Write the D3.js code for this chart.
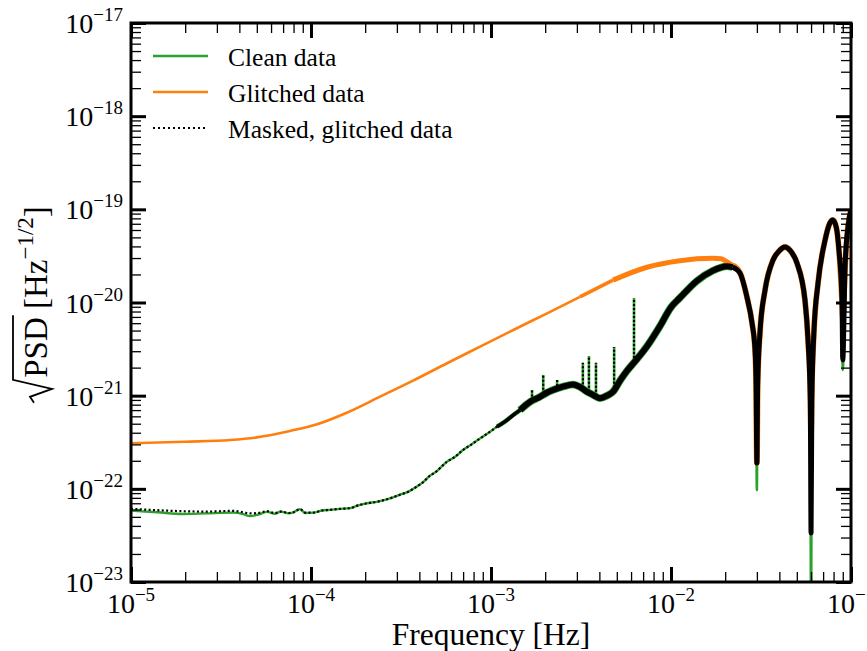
<!DOCTYPE html>
<html><head><meta charset="utf-8">
<script src="https://cdn.jsdelivr.net/npm/d3@7"></script>
<style>
body{margin:0;background:#fff}
svg{display:block}
text{font-family:"Liberation Serif","Times New Roman",serif;fill:#000}
</style>
</head><body>
<svg id="c" width="867" height="651"></svg>
<script>
// ---------------- DATA ----------------
const cleanFreq = [1e-5,1.4e-5,1.94e-5,2.6e-5,3.69e-5,4.2e-5,4.59e-5,5.1e-5,5.7e-5,6.3e-5,6.8e-5,7.5e-5,8.0e-5,8.69e-5,9.3e-5,
  1.03e-4,1.15e-4,1.28e-4,1.45e-4,1.65e-4,1.85e-4,2.05e-4,2.35e-4,2.75e-4,3.1e-4,3.5e-4,3.88e-4,4.2e-4,4.47e-4,5.0e-4,5.7e-4,6.3e-4,6.99e-4,7.8e-4,8.7e-4,9.6e-4,
  1.08e-3,1.2e-3,1.33e-3,1.45e-3,1.65e-3,1.85e-3,2.05e-3,2.21e-3,2.51e-3,2.86e-3,3.12e-3,3.42e-3,3.69e-3,4.03e-3,4.41e-3,4.76e-3,5.21e-3,5.70e-3,6.5e-3,7.36e-3,8.69e-3,
  1.0e-2,1.12e-2,1.39e-2,1.71e-2,2.05e-2,2.2e-2,2.415e-2,2.64e-2,2.82e-2,2.93e-2,2.97e-2,3.0e-2,3.03e-2,3.12e-2,3.33e-2,3.69e-2,4.0e-2,4.3e-2,4.6e-2,5.01e-2,5.55e-2,5.77e-2,5.94e-2,6.0e-2,6.06e-2,6.22e-2,6.56e-2,7.18e-2,7.6e-2,7.94e-2,8.3e-2,8.57e-2,8.91e-2,9.0e-2,9.27e-2,9.62e-2,1e-1];
const cleanPSD = [5.83e-23,5.6e-23,5.37e-23,5.45e-23,5.55e-23,5.35e-23,5.1e-23,5.3e-23,5.66e-23,5.4e-23,5.7e-23,5.45e-23,5.6e-23,6.05e-23,5.5e-23,
  5.55e-23,5.85e-23,5.95e-23,6.1e-23,6.2e-23,6.7e-23,7.0e-23,7.3e-23,7.9e-23,8.6e-23,9.4e-23,1.06e-22,1.18e-22,1.33e-22,1.55e-22,1.96e-22,2.2e-22,2.61e-22,3.0e-22,3.48e-22,3.95e-22,
  4.65e-22,5.3e-22,6.2e-22,7.0e-22,8.6e-22,9.6e-22,1.08e-21,1.15e-21,1.25e-21,1.32e-21,1.24e-21,1.10e-21,1.02e-21,9.4e-22,1.0e-21,1.1e-21,1.45e-21,1.85e-21,2.5e-21,3.4e-21,5.6e-21,
  8.9e-21,1.12e-20,1.7e-20,2.2e-20,2.45e-20,2.4e-20,2.07e-20,1.15e-20,6.0e-21,3.1e-21,1.3e-21,9.7e-23,1.3e-21,4.7e-21,1.36e-20,2.86e-20,3.6e-20,3.94e-20,3.6e-20,2.65e-20,1.06e-20,3.96e-21,9e-22,4e-24,9e-22,4.71e-21,1.62e-20,4.69e-20,7.0e-20,7.69e-20,6.3e-20,3.66e-20,1.06e-20,1.89e-21,2.41e-20,6.46e-20,9.84e-20];

const maskedFreq = cleanFreq.slice();
const maskedPSD = [6.1e-23,5.9e-23,5.75e-23,5.7e-23,5.8e-23,5.6e-23,5.45e-23,5.5e-23,5.75e-23,5.5e-23,5.7e-23,5.5e-23,5.6e-23,6.05e-23,5.55e-23,
  5.55e-23,5.85e-23,5.95e-23,6.1e-23,6.2e-23,6.7e-23,7.0e-23,7.3e-23,7.9e-23,8.6e-23,9.4e-23,1.06e-22,1.18e-22,1.33e-22,1.55e-22,1.96e-22,2.2e-22,2.61e-22,3.0e-22,3.48e-22,3.95e-22,
  4.65e-22,5.3e-22,6.2e-22,7.0e-22,8.6e-22,9.6e-22,1.08e-21,1.15e-21,1.25e-21,1.32e-21,1.24e-21,1.10e-21,1.02e-21,9.4e-22,1.0e-21,1.1e-21,1.45e-21,1.85e-21,2.5e-21,3.4e-21,5.6e-21,
  8.9e-21,1.12e-20,1.7e-20,2.2e-20,2.45e-20,2.4e-20,2.07e-20,1.15e-20,6.0e-21,3.1e-21,1.3e-21,1.89e-22,1.3e-21,4.7e-21,1.36e-20,2.86e-20,3.6e-20,3.94e-20,3.6e-20,2.65e-20,1.06e-20,3.96e-21,9e-22,3.36e-23,9e-22,4.71e-21,1.62e-20,4.69e-20,7.0e-20,7.69e-20,6.3e-20,3.66e-20,1.06e-20,2.42e-21,2.41e-20,6.46e-20,9.84e-20];

const glitchFreq = [1e-5,2e-5,3.55e-5,5.0e-5,7.64e-5,1.08e-4,1.58e-4,2.42e-4,3.69e-4,5.7e-4,8.7e-4,1.33e-3,2.05e-3,3.12e-3,4.76e-3,7.36e-3,1.12e-2,1.71e-2,1.9e-2,2.05e-2,2.2e-2,2.415e-2,
  2.64e-2,2.82e-2,2.93e-2,2.97e-2,3.0e-2,3.03e-2,3.12e-2,3.33e-2,3.69e-2,4.0e-2,4.3e-2,4.6e-2,5.01e-2,5.55e-2,5.77e-2,5.94e-2,6.0e-2,6.06e-2,6.22e-2,6.56e-2,7.18e-2,7.6e-2,7.94e-2,8.3e-2,8.57e-2,8.91e-2,9.0e-2,9.27e-2,9.62e-2,1e-1];
const glitchPSD = [3.08e-22,3.2e-22,3.34e-22,3.57e-22,4.18e-22,4.93e-22,6.56e-22,9.75e-22,1.45e-21,2.23e-21,3.36e-21,5.07e-21,7.65e-21,1.15e-20,1.74e-20,2.39e-20,2.81e-20,2.98e-20,2.95e-20,2.72e-20,2.5e-20,2.1e-20,
  1.15e-20,6.0e-21,3.1e-21,1.3e-21,1.9e-22,1.3e-21,4.7e-21,1.36e-20,2.86e-20,3.6e-20,3.94e-20,3.6e-20,2.65e-20,1.06e-20,3.96e-21,1.2e-21,4.0e-22,1.2e-21,4.71e-21,1.62e-20,4.69e-20,7.0e-20,7.69e-20,6.3e-20,3.66e-20,1.06e-20,7.0e-21,2.41e-20,6.46e-20,9.84e-20];

// narrow spectral lines (spikes) in clean and masked data
const spikeFreq = [1.69e-3,1.95e-3,2.33e-3,3.24e-3,3.50e-3,3.83e-3,4.83e-3,6.23e-3];
const spikeBase = [8.9e-22,1.05e-21,1.15e-21,1.2e-21,1.1e-21,1.0e-21,1.1e-21,2.3e-21];
const spikeTop  = [1.15e-21,1.67e-21,1.47e-21,2.25e-21,2.67e-21,2.25e-21,3.33e-21,1.12e-20];

const xTickExps = [-5,-4,-3,-2,-1];
const yTickExps = [-23,-22,-21,-20,-19,-18,-17];
const legendLabels = ["Clean data","Glitched data","Masked, glitched data"];
const xLabel = "Frequency [Hz]";

// ---------------- LAYOUT ----------------
const GREEN="#2ca02c", ORANGE="#ff7f0e", BLACK="#000";
const M={left:131,right:851,top:23,bottom:582};
const svg=d3.select("#c");
const x=d3.scaleLog().domain([1e-5,1e-1]).range([M.left,M.right]);
const y=d3.scaleLog().domain([1e-23,1e-17]).range([M.bottom,M.top]);

svg.append("defs").append("clipPath").attr("id","clip").append("rect")
  .attr("x",M.left).attr("y",M.top).attr("width",M.right-M.left).attr("height",M.bottom-M.top);
const plot=svg.append("g").attr("clip-path","url(#clip)");
const line=d3.line().x(d=>x(d[0])).y(d=>y(d[1])).curve(d3.curveMonotoneX);
function pts(F,V,lo,hi){return F.map((f,i)=>[f,V[i]]).filter(d=>d[0]>=lo&&d[0]<=hi);}
function draw(F,V,lo,hi,color,w,dash){
  plot.append("path").attr("d",line(pts(F,V,lo,hi))).attr("fill","none")
    .attr("stroke",color).attr("stroke-width",w).attr("stroke-linejoin","round")
    .attr("stroke-dasharray",dash||null);
}
function spikes(color,w,dash){
  plot.append("g").selectAll("line").data(spikeFreq).join("line")
    .attr("x1",d=>x(d)).attr("x2",d=>x(d))
    .attr("y1",(d,i)=>y(spikeBase[i])).attr("y2",(d,i)=>y(spikeTop[i]))
    .attr("stroke",color).attr("stroke-width",w).attr("stroke-dasharray",dash||null);
}

// clean
draw(cleanFreq,cleanPSD,1e-5,1.08e-3,GREEN,2.4);
draw(cleanFreq,cleanPSD,1.08e-3,1.45e-3,GREEN,4.5);
draw(cleanFreq,cleanPSD,1.45e-3,2.2e-2,GREEN,7.5);
draw(cleanFreq,cleanPSD,2.2e-2,1e-1,GREEN,2.6);
spikes(GREEN,2.6);
// glitched
draw(glitchFreq,glitchPSD,1e-5,3.12e-3,ORANGE,2.6);
draw(glitchFreq,glitchPSD,3.12e-3,4.76e-3,ORANGE,3.6);
draw(glitchFreq,glitchPSD,4.76e-3,2.2e-2,ORANGE,5);
draw(glitchFreq,glitchPSD,2.2e-2,1e-1,ORANGE,5.8);
// masked
draw(maskedFreq,maskedPSD,1e-5,1.08e-3,BLACK,2.2,"2,2.4");
draw(maskedFreq,maskedPSD,1.08e-3,1.45e-3,BLACK,3.5);
draw(maskedFreq,maskedPSD,1.45e-3,2.2e-2,BLACK,6);
draw(maskedFreq,maskedPSD,2.2e-2,1e-1,BLACK,5);
spikes(BLACK,2.2,"2,2");

// ---------------- AXES ----------------
const majX=xTickExps.map(e=>Math.pow(10,e));
const majY=yTickExps.map(e=>Math.pow(10,e));
const minX=[],minY=[];
xTickExps.slice(0,-1).forEach(e=>{for(let k=2;k<10;k++)minX.push(k*Math.pow(10,e));});
yTickExps.slice(0,-1).forEach(e=>{for(let k=2;k<10;k++)minY.push(k*Math.pow(10,e));});

function axis(gen,scale,vals,size,w,tr){
  const g=svg.append("g").attr("transform",tr)
    .call(gen(scale).tickValues(vals).tickSize(-size).tickFormat(""));
  g.select(".domain").remove();
  g.selectAll(".tick line").attr("stroke","#000").attr("stroke-width",w);
}
[[minX,10,1.3],[majX,15,3]].forEach(([v,s,w])=>{
  axis(d3.axisBottom,x,v,s,w,`translate(0,${M.bottom})`);
  axis(d3.axisTop,x,v,s,w,`translate(0,${M.top})`);
});
[[minY,10,1.3],[majY,15,3]].forEach(([v,s,w])=>{
  axis(d3.axisLeft,y,v,s,w,`translate(${M.left},0)`);
  axis(d3.axisRight,y,v,s,w,`translate(${M.right},0)`);
});
svg.append("rect").attr("x",M.left).attr("y",M.top).attr("width",M.right-M.left).attr("height",M.bottom-M.top)
  .attr("fill","none").attr("stroke","#000").attr("stroke-width",3);

// tick labels
xTickExps.forEach(e=>{
  const t=svg.append("text").attr("x",x(Math.pow(10,e))).attr("y",613).attr("text-anchor","middle");
  t.append("tspan").attr("font-size",28).text("10");
  t.append("tspan").attr("font-size",19).attr("dy",-12).text("\u2212"+Math.abs(e));
});
yTickExps.forEach(e=>{
  const t=svg.append("text").attr("x",123).attr("y",y(Math.pow(10,e))+10).attr("text-anchor","end");
  t.append("tspan").attr("font-size",28).text("10");
  t.append("tspan").attr("font-size",19).attr("dy",-12).text("\u2212"+Math.abs(e));
});

// axis labels
svg.append("text").attr("x",(M.left+M.right)/2).attr("y",645).attr("text-anchor","middle")
  .attr("font-size",31.5).text(xLabel);

const yl=svg.append("g").attr("transform","translate(47,305) rotate(-90)");
const parts=[{t:"PSD",s:33,dy:0},{t:"\u00a0[Hz",s:33,dy:0},{t:"\u22121/2",s:23,dy:-14},{t:"]",s:33,dy:0}];
const radW=26;
let widths=parts.map(p=>{const tt=yl.append("text").attr("font-size",p.s).text(p.t);const w=tt.node().getComputedTextLength();tt.remove();return w;});
const total=radW+d3.sum(widths);
let cx=-total/2+radW;
const psdStart=cx, psdEnd=cx+widths[0];
parts.forEach((p,i)=>{yl.append("text").attr("x",cx).attr("y",p.dy).attr("font-size",p.s).text(p.t);cx+=widths[i];});
yl.append("path").attr("fill","none").attr("stroke","#000").attr("stroke-width",1.8).attr("stroke-linejoin","miter")
  .attr("d",`M${psdStart-25},-13 L${psdStart-19},-17 L${psdStart-11},5 L${psdStart-2},-34 L${psdEnd+2},-34`);

// legend
const legColors=[GREEN,ORANGE,BLACK];
legendLabels.forEach((lab,i)=>{
  const yy=56+36*i;
  svg.append("line").attr("x1",153).attr("x2",208).attr("y1",yy).attr("y2",yy)
    .attr("stroke",legColors[i]).attr("stroke-width",i==2?2.2:2.6).attr("stroke-dasharray",i==2?"2,3":null);
  svg.append("text").attr("x",228).attr("y",yy+10).attr("font-size",25.5).text(lab);
});
</script>
</body></html>
